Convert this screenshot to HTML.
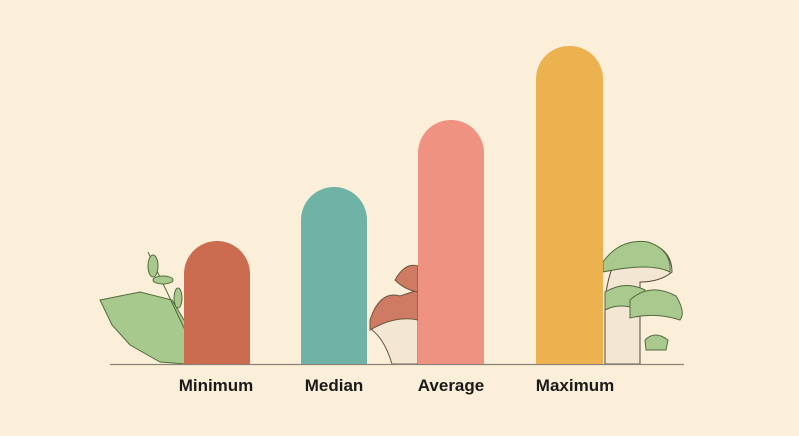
<!DOCTYPE html>
<html><head><style>
html,body{margin:0;padding:0}
body{width:799px;height:436px;background:#fcefd9;position:relative;overflow:hidden;font-family:"Liberation Sans",sans-serif}
.bar{position:absolute;bottom:72px;width:66px;border-radius:33px 33px 0 0}
.lab{position:absolute;top:376px;width:140px;text-align:center;font-size:17px;font-weight:bold;color:#1a1a1a}
</style></head><body>
<svg width="799" height="436" style="position:absolute;left:0;top:0">
 <!-- leaf left -->
 <path d="M100 300 L140 292 L172 300 L190 330 L186 364 L160 362 L130 345 L112 325 Z" fill="#a7c98e" stroke="#4f6b3c" stroke-width="1"/>
 <path d="M148 252 L185 330" stroke="#4f6b3c" fill="none"/>
 <ellipse cx="153" cy="266" rx="5" ry="11" fill="#a7c98e" stroke="#4f6b3c"/>
 <ellipse cx="163" cy="280" rx="10" ry="4" fill="#a7c98e" stroke="#4f6b3c"/>
 <ellipse cx="178" cy="298" rx="4" ry="10" fill="#a7c98e" stroke="#4f6b3c"/>
 <!-- mushrooms middle -->
 <path d="M372 330 Q380 300 400 300 L418 300 L418 364 L392 364 Q385 340 372 330 Z" fill="#f3e6d2" stroke="#6a5440"/>
 <path d="M370 320 Q380 290 400 296 L418 290 L418 320 Q395 315 370 330 Z" fill="#cf7a62" stroke="#6a5440"/>
 <path d="M395 280 Q405 262 418 266 L418 292 Q405 290 395 280 Z" fill="#cf7a62" stroke="#6a5440"/>
 <!-- mushrooms right -->
 <path d="M605 300 Q612 240 645 242 Q672 248 672 272 Q660 282 640 282 L640 364 L605 364 Z" fill="#f3e6d2" stroke="#4f4a3c"/>
 <path d="M603 262 Q620 238 648 242 Q672 250 670 272 Q650 262 603 272 Z" fill="#a9c98e" stroke="#4f6b3c"/>
 <path d="M605 292 Q625 280 645 290 L640 310 Q620 302 605 310 Z" fill="#a9c98e" stroke="#4f6b3c"/>
 <path d="M630 300 Q650 282 676 296 Q686 312 680 320 Q655 312 630 318 Z" fill="#a9c98e" stroke="#4f6b3c"/>
 <path d="M645 340 Q655 330 668 340 L666 350 L646 350 Z" fill="#a9c98e" stroke="#4f6b3c"/>
 <line x1="110" y1="364.5" x2="684" y2="364.5" stroke="#8a8478" stroke-width="1.2"/>
</svg>
<div class="bar" style="left:184px;top:241px;background:#cb6c51"></div>
<div class="bar" style="left:301px;top:187px;background:#6fb3a6"></div>
<div class="bar" style="left:418px;top:120px;background:#ef9282"></div>
<div class="bar" style="left:536px;top:46px;width:67px;background:#ebb24f"></div>
<div class="lab" style="left:146px">Minimum</div>
<div class="lab" style="left:264px">Median</div>
<div class="lab" style="left:381px">Average</div>
<div class="lab" style="left:505px">Maximum</div>
</body></html>
